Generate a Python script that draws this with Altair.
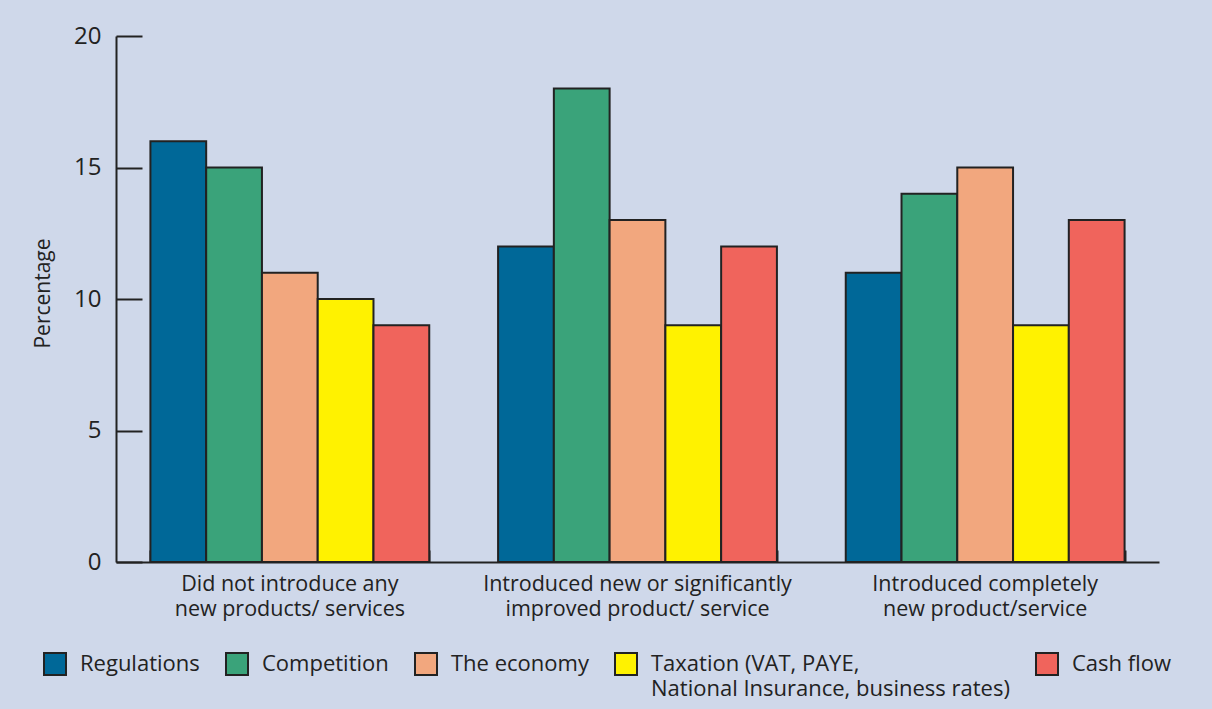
import altair as alt
import pandas as pd

FONT = "Open Sans"
INK = "#222222"

# Category names ("|" marks a line break in the drawn label)
groups = [
    "Did not introduce any|new products/ services",
    "Introduced new or significantly|improved product/ service",
    "Introduced completely|new product/service",
]
factors = [
    "Regulations",
    "Competition",
    "The economy",
    "Taxation (VAT, PAYE,|National Insurance, business rates)",
    "Cash flow",
]
factor_colors = ["#006898", "#3aa37a", "#f2a77e", "#fff200", "#f0645c"]

# Percentage of businesses citing each obstacle, per innovation group
did_not_introduce = [16, 15, 11, 10, 9]
improved_product = [12, 18, 13, 9, 12]
completely_new = [11, 14, 15, 9, 13]

y_ticks = [0, 5, 10, 15, 20]

rows = []
for g, vals in zip(groups, [did_not_introduce, improved_product, completely_new]):
    for f, v in zip(factors, vals):
        rows.append({"group": g, "factor": f, "pct": v})
df = pd.DataFrame(rows)

W, H = 1043, 526

x_scale = alt.Scale(domain=groups, paddingInner=0.198, paddingOuter=0.099)
y_scale = alt.Scale(domain=[0, 20], nice=False)

# Every legend label is given two lines (the second one empty when the name
# fits on one), so all entries share one height and line up on their swatches.
legend_label_expr = (
    "length(split(datum.label, '|')) > 1 ? split(datum.label, '|') : [datum.label, '']"
)

bars = alt.Chart(df).mark_bar(stroke=INK, strokeWidth=2).encode(
    x=alt.X(
        "group:N",
        scale=x_scale,
        sort=groups,
        title=None,
        axis=alt.Axis(
            orient="bottom",
            labelExpr="split(datum.label, '|')",
            labelAngle=0,
            labelFont=FONT,
            labelFontSize=21.5,
            labelLineHeight=25,
            labelPadding=11,
            labelColor=INK,
            labelLimit=600,
            ticks=False,
            domainColor=INK,
            domainWidth=2,
            grid=False,
        ),
    ),
    xOffset=alt.XOffset("factor:N", sort=factors, scale=alt.Scale(domain=factors, paddingInner=0, paddingOuter=0)),
    y=alt.Y(
        "pct:Q",
        scale=y_scale,
        axis=alt.Axis(
            orient="left",
            values=y_ticks,
            title="Percentage",
            titleFont=FONT,
            titleFontSize=21,
            titleFontWeight="normal",
            titleColor=INK,
            titlePadding=20,
            titleY=257,
            labelFont=FONT,
            labelFontSize=24,
            labelColor=INK,
            labelPadding=15,
            ticks=False,
            domainColor=INK,
            domainWidth=2,
            grid=False,
        ),
    ),
    color=alt.Color(
        "factor:N",
        sort=factors,
        scale=alt.Scale(domain=factors, range=factor_colors),
        legend=alt.Legend(
            orient="none",
            legendX=-73,
            legendY=616,
            direction="horizontal",
            columns=5,
            title=None,
            symbolType="square",
            symbolSize=484,
            symbolStrokeColor=INK,
            symbolStrokeWidth=2,
            symbolOpacity=1,
            labelFont=FONT,
            labelFontSize=22,
            labelColor=INK,
            labelOffset=13,
            labelLimit=600,
            labelBaseline="middle",
            labelExpr=legend_label_expr,
            columnPadding=22,
            rowPadding=0,
            padding=0,
        ),
    ),
)

# Inward-pointing tick marks: band-boundary ticks on the x baseline and
# value ticks along the y axis, drawn by axes moved onto the opposite edges.
inner_ticks = alt.Chart(df).mark_bar(opacity=0).encode(
    x=alt.X(
        "group:N",
        scale=x_scale,
        sort=groups,
        title=None,
        axis=alt.Axis(
            orient="top",
            offset=-H,
            tickBand="extent",
            tickSize=12,
            tickWidth=2,
            tickColor=INK,
            labels=False,
            domain=False,
            grid=False,
        ),
    ),
    y=alt.Y(
        "pct:Q",
        scale=y_scale,
        title=None,
        axis=alt.Axis(
            orient="right",
            offset=-W,
            values=y_ticks,
            tickSize=26,
            tickWidth=2,
            tickColor=INK,
            labels=False,
            domain=False,
            grid=False,
        ),
    ),
)

chart = (
    alt.layer(bars, inner_ticks)
    .resolve_axis(x="independent", y="independent")
    .properties(
        width=W,
        height=H,
        background="#cfd8ea",
        autosize=alt.AutoSizeParams(type="none"),
        padding={"left": 116, "top": 36, "right": 53, "bottom": 147},
    )
    .configure(
        view={"strokeWidth": 0},
        style={"guide-label": {"lineHeight": 25}},
    )
)

chart.save("out.html", embed_options={"renderer": "svg", "actions": False})
